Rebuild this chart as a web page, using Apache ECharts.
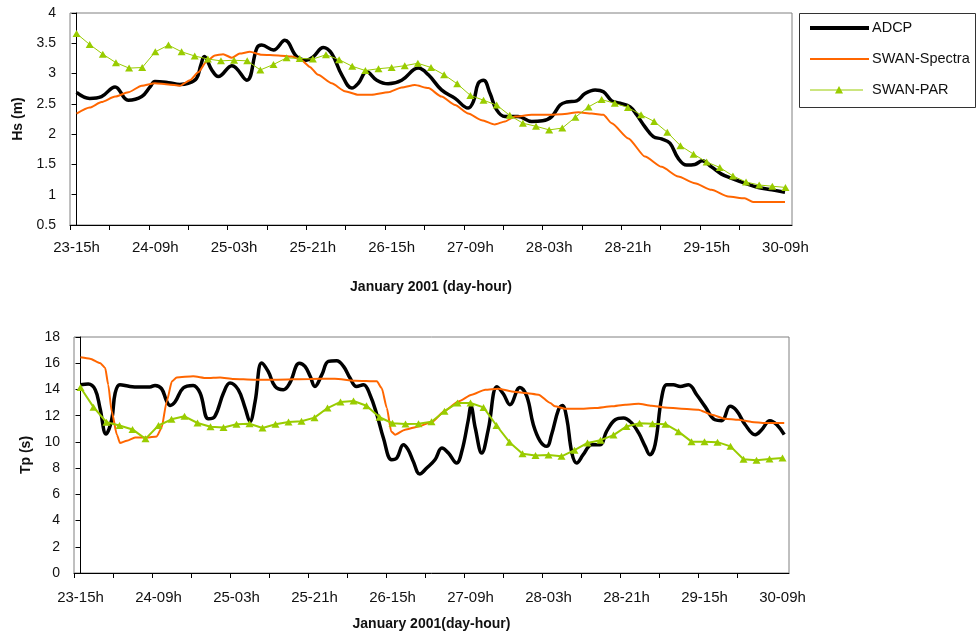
<!DOCTYPE html>
<html>
<head>
<meta charset="utf-8">
<script src="https://cdn.jsdelivr.net/npm/echarts@6/dist/echarts.min.js"></script>
<style>
  html, body { margin: 0; padding: 0; background: #fff; }
  #chart { width: 976px; height: 635px; }
</style>
</head>
<body>
<div id="chart"></div>
<script>
// Time is measured in hours after 23 Jan 2001, 15h.
const timeLabels = ['23-15h', '24-09h', '25-03h', '25-21h', '26-15h', '27-09h', '28-03h', '28-21h', '29-15h', '30-09h'];
const labelStep = 18;   // hours between labelled ticks
const tickStep = 9;     // hours between tick marks
const axisStart = -1.5; // axis edges (hours)
const axisEnd = 163.5;

const seriesNames = ['ADCP', 'SWAN-Spectra', 'SWAN-PAR'];
const seriesColors = ['#000000', '#FF6600', '#99CC00'];

// SWAN-PAR output every 3 hours starting at 23-15h
const parStep = 3;
const hsPar = [3.66, 3.48, 3.32, 3.18, 3.09, 3.10, 3.36, 3.47, 3.36, 3.29,
               3.24, 3.21, 3.22, 3.21, 3.06, 3.15, 3.26, 3.25, 3.24, 3.31,
               3.23, 3.12, 3.05, 3.08, 3.10, 3.13, 3.17, 3.10, 2.98, 2.83,
               2.64, 2.56, 2.48, 2.31, 2.18, 2.13, 2.07, 2.10, 2.28, 2.45,
               2.57, 2.51, 2.44, 2.32, 2.21, 2.03, 1.81, 1.67, 1.54, 1.45,
               1.31, 1.21, 1.16, 1.14, 1.12];
const tpPar = [14.15, 12.65, 11.50, 11.25, 10.95, 10.23, 11.25, 11.72, 11.95, 11.44,
               11.15, 11.10, 11.34, 11.38, 11.06, 11.35, 11.52, 11.58, 11.85, 12.58,
               13.05, 13.12, 12.76, 11.88, 11.42, 11.37, 11.38, 11.54, 12.34, 12.97,
               12.97, 12.63, 11.25, 9.98, 9.10, 8.97, 9.00, 8.90, 9.37, 9.92,
               10.13, 10.52, 11.18, 11.42, 11.38, 11.35, 10.78, 10.02, 10.01, 9.98,
               9.66, 8.67, 8.60, 8.70, 8.77];

// Significant wave height, ADCP record
const hsAdcpHours = [0, 3, 5.7, 8.8, 11.8, 14.9, 16.8, 17.9, 21, 23.6, 25.5, 27.4, 28.4, 29.2, 30.9, 32.4,
  35.5, 38.9, 41.2, 42.3, 45, 47.6, 50.3, 52.5, 54, 56.4, 58.3, 60.6, 62.9, 64.4, 66.3, 68.6, 71.2,
  74.3, 78.1, 80.4, 83.4, 86.5, 89.5, 90.7, 91.8, 93, 94.5, 96, 97.9, 100.9, 104, 106.5, 108.6,
  110.5, 112, 114.3, 116.2, 118.5, 120.4, 122.3, 124.2, 126.5, 128, 129.9, 131.8, 133.7, 135.6,
  137.5, 139.4, 141.3, 143, 145.1, 147.4, 149.7, 152.7, 155.8, 158.9, 161.9];
const hsAdcp = [2.69, 2.59, 2.62, 2.78, 2.56, 2.62, 2.78, 2.87, 2.85, 2.82, 2.84, 2.92, 3.14, 3.28, 3.06, 2.95,
  3.13, 2.89, 3.42, 3.47, 3.39, 3.55, 3.28, 3.22, 3.27, 3.43, 3.33, 2.98, 2.76, 2.84, 3.03, 2.89, 2.83,
  2.89, 3.09, 2.98, 2.73, 2.59, 2.43, 2.54, 2.84, 2.89, 2.67, 2.40, 2.29, 2.29, 2.21, 2.22, 2.29,
  2.48, 2.53, 2.55, 2.67, 2.73, 2.70, 2.55, 2.51, 2.45, 2.32, 2.12, 1.96, 1.92, 1.85,
  1.60, 1.49, 1.50, 1.56, 1.46, 1.34, 1.27, 1.19, 1.12, 1.08, 1.04];

// Significant wave height, SWAN run forced by spectra
const hsSpectraHours = [0, 3, 5.7, 8.8, 11.8, 14.9, 17.9, 21, 23.6, 25.9, 27.8, 29.7, 31.6, 33.5, 35.5, 37.3,
  39.6, 42.3, 46.1, 49.2, 51.4, 53.3, 55.2, 58.3, 61.3, 64.4, 67.4, 71.2, 74.3, 77.3, 80.4, 83.4,
  86.5, 89.5, 92.6, 95.6, 97.9, 100.2, 104, 108.2, 110.9, 114.7, 117.7, 120.4, 122.3, 126.1, 129.9,
  133.7, 137.5, 141.3, 145.1, 148.9, 152.7, 154.6, 161.9];
const hsSpectra = [2.34, 2.44, 2.53, 2.62, 2.69, 2.80, 2.84, 2.82, 2.80, 2.89, 3.02, 3.20, 3.30, 3.32, 3.26, 3.33,
  3.36, 3.31, 3.30, 3.28, 3.22, 3.11, 2.98, 2.84, 2.71, 2.65, 2.65, 2.69, 2.77, 2.81, 2.76, 2.62,
  2.48, 2.34, 2.23, 2.16, 2.21, 2.29, 2.32, 2.32, 2.33, 2.36, 2.34, 2.32, 2.18, 1.93, 1.63,
  1.46, 1.30, 1.19, 1.08, 0.97, 0.94, 0.88, 0.88];

// Peak period, ADCP record
const tpAdcpHours = [0, 1.8, 3.4, 4.5, 5.9, 7.2, 8, 9.1, 11.4, 13.7, 16, 17.2, 18.7, 19.9, 20.7, 21.8, 23.7,
  26, 27.6, 29.5, 31, 33, 34.5, 36.4, 38, 39.1, 40.3, 41.8, 43.3, 44.9, 46.8, 48.3, 50.5, 51.8, 53,
  54.1, 55.7, 57.2, 59.1, 60.7, 62.2, 63.7, 65.3, 66.8, 68.4, 69.9, 71.8, 73, 74.5, 75.6, 76.8, 78.3,
  79.9, 81.8, 83.4, 84.9, 86.8, 88, 89.5, 90.1, 91.1, 92.6, 94.1, 96.1, 97.6, 99.1, 101.4, 103, 104.5,
  106.1, 107.6, 108.7, 110.3, 111.2, 112.2, 113.4, 114.5, 116, 118, 119.9, 121.4, 123.4, 125.3, 127.2,
  128.8, 130.3, 131.4, 132.6, 134.1, 135.3, 136.8, 138.4, 140.3, 142.2, 144.1, 146.4, 148, 149.9,
  151.4, 153.4, 155.7, 157.2, 159.1, 160.7, 162.4];
const tpAdcp = [14.36, 14.41, 13.98, 12.58, 10.60, 11.69, 13.73, 14.36, 14.23, 14.19, 14.19, 14.31, 14.06, 13.09, 12.78, 13.04, 14.11,
  14.31, 13.73, 11.77, 11.95, 13.73, 14.49, 13.98, 12.58, 11.56, 13.09, 16.02, 15.38, 14.23, 13.98, 14.49, 16.00, 15.76, 15.00,
  14.23, 15.13, 16.14, 16.19, 15.76, 14.87, 14.23, 14.36, 13.60, 12.07, 10.30, 8.64, 8.77, 9.79, 9.41, 8.51, 7.55,
  8.01, 8.64, 9.53, 9.15, 8.39, 9.28, 11.69, 12.71, 11.06, 9.15, 10.93, 14.20, 13.65, 12.84, 14.15, 13.47, 11.31,
  10.04, 9.66, 10.55, 12.46, 12.78, 11.82, 9.15, 8.39, 9.02, 9.79, 9.79, 10.80, 11.69, 11.82, 11.44,
  10.68, 9.66, 9.02, 9.79, 13.35, 14.36, 14.36, 14.23, 14.36, 13.60, 12.71, 11.69, 11.62, 12.71,
  12.38, 11.31, 10.55, 10.93, 11.62, 11.31, 10.55];

// Peak period, SWAN run forced by spectra
const tpSpectraHours = [0, 2.2, 4.5, 5.7, 6.4, 7.2, 8.4, 9.1, 10.7, 12.6, 15.3, 17.6, 18.7, 19.9, 21.1, 22.2,
  26, 29.1, 32.2, 35.3, 39.9, 45.3, 53, 58.7, 63.4, 68.4, 69.5, 70.7, 71.7, 72.6, 74.9, 78, 81.1, 84.1,
  87.2, 90.3, 93.4, 96.4, 99.5, 102.6, 105.7, 108.4, 109.5, 111.8, 114.9, 118.7, 122.6, 125.7, 128.8,
  131.8, 134.8, 138.7, 142.6, 145.7, 148.7, 151.8, 154.9, 158, 162.4];
const tpSpectra = [16.45, 16.35, 16.02, 15.64, 14.36, 12.33, 10.55, 9.92, 10.09, 10.34, 10.34, 10.42, 11.06, 13.09, 14.62, 14.92,
  15.00, 14.87, 14.92, 14.80, 14.74, 14.74, 14.80, 14.82, 14.67, 14.62, 14.11, 12.58, 10.80, 10.55, 10.93, 11.18, 11.52, 12.38,
  13.09, 13.60, 13.98, 14.06, 13.85, 13.73, 13.60, 12.97, 12.71, 12.53, 12.53, 12.58, 12.71, 12.84, 12.91,
  12.76, 12.63, 12.53, 12.46, 12.07, 11.77, 11.69, 11.52, 11.44, 11.44];

const font = '"Liberation Sans", Arial, sans-serif';
const textColor = '#111';

const pairs = (hours, vals) => hours.map((h, i) => [h, vals[i]]);
const parPairs = vals => vals.map((v, i) => [i * parStep, v]);

const tickHours = [];
for (let h = axisStart; h <= axisEnd - tickStep + 0.01; h += tickStep) tickHours.push(h);
const labelHours = timeLabels.map((_, i) => i * labelStep);

function timeAxis(gridIndex, name, nameGap, labelMargin) {
  return {
    type: 'value', gridIndex, min: axisStart, max: axisEnd,
    axisLine: { show: true, onZero: false, lineStyle: { color: '#000', width: 1 } },
    axisTick: { show: true, length: 5, customValues: tickHours, lineStyle: { color: '#000' } },
    axisLabel: {
      customValues: labelHours, margin: labelMargin, fontSize: 15, color: textColor, fontFamily: font,
      formatter: v => timeLabels[Math.round(v / labelStep)]
    },
    splitLine: { show: false },
    name, nameLocation: 'middle', nameGap,
    nameTextStyle: { fontWeight: 'bold', fontSize: 14, color: textColor, fontFamily: font }
  };
}

function valueAxis(gridIndex, min, max, interval, name, nameGap) {
  return {
    type: 'value', gridIndex, min, max, interval,
    axisLine: { show: true, lineStyle: { color: '#000', width: 1 } },
    axisTick: { show: true, length: 5, lineStyle: { color: '#000' } },
    axisLabel: { margin: 14, fontSize: 14, color: textColor, fontFamily: font },
    splitLine: { show: false },
    name, nameLocation: 'middle', nameGap,
    nameTextStyle: { fontWeight: 'bold', fontSize: 14, color: textColor, fontFamily: font }
  };
}

function seriesSet(axisIndex, adcp, spectra, par, parLineWidth) {
  return [
    {
      name: seriesNames[0], type: 'line', xAxisIndex: axisIndex, yAxisIndex: axisIndex,
      data: adcp, symbol: 'none', smooth: 0.4, silent: true,
      lineStyle: { color: seriesColors[0], width: 3.5 }, z: 2
    },
    {
      name: seriesNames[1], type: 'line', xAxisIndex: axisIndex, yAxisIndex: axisIndex,
      data: spectra, symbol: 'none', smooth: 0.2, smoothMonotone: 'x', silent: true,
      lineStyle: { color: seriesColors[1], width: 2 }, z: 3
    },
    {
      name: seriesNames[2], type: 'line', xAxisIndex: axisIndex, yAxisIndex: axisIndex,
      data: par, symbol: 'triangle', symbolSize: [8, 7], showAllSymbol: true, silent: true,
      itemStyle: { color: seriesColors[2] },
      lineStyle: { color: seriesColors[2], width: parLineWidth }, z: 4
    }
  ];
}

const gridStyle = { show: true, borderColor: '#808080', borderWidth: 1, backgroundColor: 'transparent', containLabel: false, outerBoundsMode: 'none' };

// Legend box drawn beside the wave-height panel
const legendRows = [28, 59, 90];
const legendGraphics = [
  { type: 'rect', shape: { x: 799.5, y: 13.5, width: 176, height: 94 }, style: { fill: '#fff', stroke: '#333', lineWidth: 1 } },
  { type: 'line', shape: { x1: 810, y1: legendRows[0], x2: 869, y2: legendRows[0] }, style: { stroke: seriesColors[0], lineWidth: 4 } },
  { type: 'line', shape: { x1: 810, y1: legendRows[1], x2: 869, y2: legendRows[1] }, style: { stroke: seriesColors[1], lineWidth: 2 } },
  { type: 'line', shape: { x1: 810, y1: legendRows[2], x2: 863, y2: legendRows[2] }, style: { stroke: seriesColors[2], lineWidth: 1 } },
  { type: 'polygon', shape: { points: [[839, legendRows[2] - 4], [835, legendRows[2] + 3.5], [843, legendRows[2] + 3.5]] }, style: { fill: seriesColors[2] } }
].concat(seriesNames.map((n, i) => ({
  type: 'text', x: 872, y: legendRows[i],
  style: { text: n, font: '14.5px ' + font, fill: textColor, verticalAlign: 'middle', align: 'left' }
})));

const chart = echarts.init(document.getElementById('chart'), null, { renderer: 'canvas' });
chart.setOption({
  animation: false,
  backgroundColor: '#fff',
  grid: [
    Object.assign({ left: 70, top: 13, width: 722, height: 212 }, gridStyle),
    Object.assign({ left: 74, top: 337, width: 715, height: 236 }, gridStyle)
  ],
  xAxis: [
    timeAxis(0, 'January 2001 (day-hour)', 55, 15),
    timeAxis(1, 'January 2001(day-hour)', 44, 17)
  ],
  yAxis: [
    valueAxis(0, 0.5, 4, 0.5, 'Hs (m)', 45),
    valueAxis(1, 0, 18, 2, 'Tp (s)', 40)
  ],
  series: [].concat(
    seriesSet(0, pairs(hsAdcpHours, hsAdcp), pairs(hsSpectraHours, hsSpectra), parPairs(hsPar), 1),
    seriesSet(1, pairs(tpAdcpHours, tpAdcp), pairs(tpSpectraHours, tpSpectra), parPairs(tpPar), 2)
  ),
  graphic: legendGraphics
});
</script>
</body>
</html>
